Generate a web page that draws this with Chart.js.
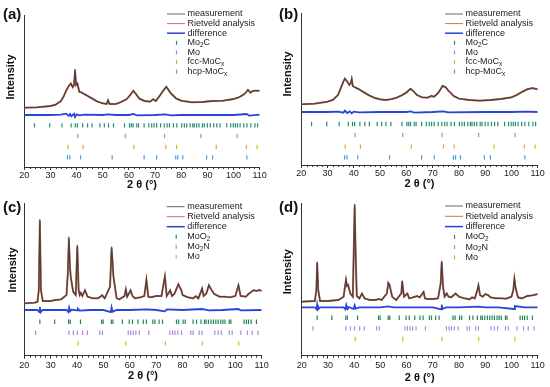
<!DOCTYPE html>
<html>
<head>
<meta charset="utf-8">
<script src="https://cdn.jsdelivr.net/npm/chart.js@4/dist/chart.umd.min.js"></script>
<style>
  body { margin: 0; background: #fff; width: 550px; height: 387px; position: relative; overflow: hidden; }
  .panel { position: absolute; width: 275px; }
</style>
</head>
<body>
<div class="panel" style="left:0;top:0;height:193px"><canvas id="pa"></canvas></div>
<div class="panel" style="left:275px;top:0;height:193px"><canvas id="pb"></canvas></div>
<div class="panel" style="left:0;top:190px;height:197px"><canvas id="pc"></canvas></div>
<div class="panel" style="left:275px;top:190px;height:197px"><canvas id="pd"></canvas></div>
<script>
const xTicks = [20, 30, 40, 50, 60, 70, 80, 90, 100, 110];

// (a) intensities (arbitrary units)
const angA  = [20, 25, 30, 32, 34, 35, 36, 37, 37.8, 38.5, 39.0, 39.4, 39.8, 40.3, 40.6, 41, 42, 44, 46, 48, 50, 51.5, 52, 52.6, 55, 57, 59, 60, 61, 61.7, 62.5, 64, 66, 68, 69.3, 70.3, 72, 73, 74.3, 75, 76, 78, 80, 84, 88, 92, 96, 100, 102, 104, 105, 105.5, 106.5, 107, 108, 109, 110];
const measA = [178, 179, 183, 187, 198, 211, 229, 243, 251, 239, 246, 294, 246, 251, 240, 226, 223, 214, 205, 196, 191, 189, 201, 189, 189, 195, 203, 211, 221, 229, 221, 205, 198, 196, 204, 198, 216, 228, 241, 233, 221, 206, 199, 194, 195, 198, 199, 204, 209, 218, 226, 232, 223, 227, 229, 229, 229];
const fitA  = [178, 179, 183, 187, 198, 211, 229, 243, 250, 240, 246, 288, 246, 249, 240, 226, 223, 214, 205, 196, 191, 189, 199, 189, 189, 195, 203, 211, 221, 228, 221, 205, 198, 196, 202, 198, 216, 228, 240, 233, 221, 206, 199, 194, 195, 198, 199, 204, 209, 218, 226, 230, 223, 226, 229, 229, 229];
const diffAngA = [20, 30, 34, 36, 37, 37.5, 38, 39, 39.4, 40, 41, 43, 50, 52, 55, 60, 61.7, 63, 70, 74, 76, 80, 90, 100, 105, 106, 110];
const diffA    = [156, 156, 157, 160, 153, 159, 152, 160, 150, 158, 155, 157, 156, 158, 156, 156, 159, 155, 156, 158, 155, 156, 156, 156, 159, 154, 157];

// (b)
const angB  = [20, 25, 30, 32, 34, 35, 36, 36.6, 37.5, 38.3, 38.8, 39.2, 39.6, 40.5, 42, 44, 46, 48, 50, 52, 54, 56, 58, 60, 61, 61.6, 62.5, 64, 66, 68, 69.5, 70.5, 72, 73, 73.8, 75, 76, 78, 80, 84, 88, 92, 96, 100, 102, 104, 106, 108, 110];
const measB = [182, 184, 190, 195, 210, 230, 250, 260, 250, 240, 245, 260, 237, 233, 227, 217, 208, 201, 197, 195, 197, 201, 208, 217, 225, 229, 223, 210, 203, 202, 208, 205, 215, 227, 238, 233, 223, 207, 199, 195, 193, 195, 198, 203, 210, 219, 227, 231, 227];
const fitB  = [182, 184, 190, 195, 210, 230, 250, 258, 250, 240, 245, 256, 237, 233, 227, 217, 208, 201, 197, 195, 197, 201, 208, 217, 225, 228, 223, 210, 203, 202, 206, 205, 215, 227, 237, 233, 223, 207, 199, 195, 193, 195, 198, 203, 210, 219, 227, 230, 227];
const diffAngB = [20, 30, 34, 36, 36.6, 37.5, 38.5, 39.2, 40, 42, 50, 60, 61.6, 63, 70, 74, 76, 90, 100, 106, 110];
const diffB    = [159, 159, 160, 157, 163, 156, 161, 155, 160, 158, 159, 159, 161, 157, 159, 161, 158, 159, 159, 160, 159];

// (c)
const angC  = [20, 24, 25, 25.5, 25.9, 26.3, 27, 30, 31.5, 34, 36, 36.5, 36.9, 37.3, 37.6, 38.5, 39.5, 40.1, 40.6, 41, 41.4, 42, 43, 44, 46, 48, 49.5, 50.5, 52.5, 53.1, 53.8, 55, 56, 58, 58.5, 59, 60.3, 61, 62, 64, 65.5, 66.3, 67, 68, 70, 72, 73.3, 74, 75.3, 76, 77, 78.4, 79.5, 80, 82, 84, 85, 86, 87.4, 88, 89, 90, 91, 92, 94, 96, 98, 100, 101.2, 102, 104, 105, 106, 107, 108, 109, 110];
const measC = [157, 159, 162, 197, 409, 197, 164, 164, 167, 169, 182, 247, 357, 267, 237, 192, 182, 332, 197, 182, 189, 179, 197, 177, 172, 172, 182, 172, 207, 327, 237, 172, 169, 179, 199, 177, 197, 179, 172, 175, 179, 229, 177, 175, 179, 179, 239, 179, 197, 179, 187, 215, 197, 182, 175, 172, 179, 172, 202, 179, 187, 212, 197, 185, 177, 177, 175, 179, 212, 179, 177, 185, 191, 197, 194, 197, 195];
const fitC  = [157, 159, 162, 197, 404, 197, 164, 164, 166, 169, 182, 247, 350, 267, 237, 192, 182, 326, 197, 182, 188, 179, 195, 177, 172, 172, 180, 172, 207, 322, 237, 172, 169, 179, 198, 177, 195, 179, 172, 175, 179, 226, 177, 175, 179, 179, 236, 179, 195, 179, 187, 213, 197, 182, 175, 172, 178, 172, 200, 179, 187, 210, 197, 185, 177, 177, 175, 179, 210, 179, 177, 185, 191, 196, 194, 196, 195];
const diffAngC = [20, 25, 25.7, 25.9, 26.2, 27, 30, 36, 36.7, 37, 37.4, 38, 40, 40.3, 41, 45, 50, 52.8, 53.1, 53.5, 55, 60, 66.3, 70, 73.3, 74, 80, 87.4, 90, 95, 101.2, 102, 110];
const diffC    = [137, 137, 131, 146, 130, 137, 137, 137, 131, 144, 133, 138, 136, 141, 135, 137, 137, 131, 145, 132, 137, 137, 139, 137, 133, 139, 137, 140, 136, 137, 140, 136, 137];

// (d)
const angD  = [20, 25, 25.6, 25.9, 26.3, 27, 30, 34, 36, 36.5, 36.9, 37.3, 37.7, 38.5, 39.5, 39.8, 40.2, 40.6, 41, 42, 43, 44, 46, 48, 49.5, 50.5, 52.5, 53, 53.5, 54.5, 56, 58, 58.3, 59, 60.3, 61, 62, 64, 65, 66.5, 67, 68, 70, 72, 73, 73.4, 73.9, 74.5, 75.3, 76, 77, 78.7, 80, 82, 84, 85, 86, 87, 87.4, 88, 89, 90, 91, 92, 94, 96, 98, 100, 100.7, 101.1, 101.6, 102.5, 104, 106, 108, 110];
const measD = [162, 164, 197, 282, 197, 164, 164, 167, 177, 207, 229, 209, 212, 187, 177, 297, 455, 297, 179, 172, 187, 172, 167, 167, 170, 167, 187, 219, 212, 177, 167, 187, 225, 177, 187, 172, 174, 179, 175, 192, 172, 170, 170, 172, 217, 284, 207, 177, 187, 177, 175, 187, 177, 172, 169, 175, 172, 197, 212, 182, 177, 185, 182, 175, 172, 172, 171, 177, 197, 232, 202, 175, 172, 179, 181, 185];
const fitD  = [162, 164, 197, 278, 197, 164, 164, 167, 177, 207, 226, 209, 212, 187, 177, 297, 448, 297, 179, 172, 186, 172, 167, 167, 170, 167, 187, 217, 212, 177, 167, 187, 222, 177, 186, 172, 174, 179, 175, 190, 172, 170, 170, 172, 217, 280, 207, 177, 186, 177, 175, 186, 177, 172, 169, 175, 172, 197, 210, 182, 177, 184, 182, 175, 172, 172, 171, 177, 197, 229, 202, 175, 172, 179, 181, 185];
const diffAngD = [20, 25, 25.7, 25.9, 26.2, 27, 30, 36, 36.7, 37, 37.5, 38, 39.8, 40.2, 40.6, 42, 50, 53, 55, 60, 70, 73.2, 73.4, 73.7, 75, 80, 87.4, 90, 95, 101, 101.3, 105, 110];
const diffD    = [145, 145, 139, 153, 139, 145, 145, 145, 139, 152, 140, 146, 140, 151, 141, 145, 145, 148, 145, 145, 145, 139, 153, 140, 145, 145, 147, 145, 145, 140, 149, 145, 145];

// reflection positions (2θ) of each phase
const mo2cPos = [23.9, 29.7, 34.4, 37.9, 39.5, 40.3, 42.3, 44.2, 45.9, 48.9, 50.6, 52.2, 54.1, 58.3, 60.2, 60.9, 61.6, 63.0, 63.7, 65.8, 67.6, 68.7, 69.6, 70.6, 72.1, 73.5, 74.6, 75.5, 77.0, 78.3, 80.2, 81.2, 82.1, 83.4, 84.4, 85.0, 85.9, 86.8, 88.1, 88.8, 90.0, 91.1, 92.4, 93.6, 94.8, 97.4, 98.9, 99.9, 100.7, 101.5, 102.5, 103.9, 105.1, 106.6, 108.2, 109.2];
const moPosAB = [40.5, 58.6, 73.6, 87.5, 101.4];
const fccPos  = [36.7, 42.5, 61.9, 74.1, 78.2, 93.4, 104.9, 109.0];
const hcpPos  = [36.5, 37.4, 41.5, 53.6, 65.8, 70.6, 77.9, 78.7, 80.6, 89.7, 92.0, 105.1];
const moo2Pos = [25.9, 31.5, 36.8, 37.4, 41.3, 49.3, 49.9, 53.0, 53.6, 57.2, 59.8, 61.0, 63.1, 65.1, 66.3, 68.7, 69.5, 71.1, 72.4, 77.7, 78.5, 80.2, 81.0, 84.0, 85.3, 87.0, 88.3, 88.9, 89.8, 90.8, 91.7, 92.6, 93.5, 94.5, 95.3, 96.1, 97.7, 98.3, 103.3, 104.2, 105.0, 106.0, 108.0];
const mo2nPos = [24.3, 36.9, 38.6, 40.1, 42.1, 43.9, 48.6, 49.6, 59.4, 60.3, 61.3, 62.3, 63.6, 67.2, 75.2, 76.2, 77.1, 78.2, 79.6, 83.1, 84.0, 86.3, 87.4, 92.2, 93.5, 94.7, 97.7, 98.8, 102.1, 104.6, 106.4, 108.6];
const moPosCD = [40.4, 58.5, 73.5, 87.5, 101.3];

const FONT = '"Liberation Sans", Arial, sans-serif';
const C_MEAS = '#4f3f3a', C_FIT = '#c87660', C_DIFF = '#2a44d8';

const pts = (xs, ys) => xs.map((x, i) => ({ x: x, y: ys[i] }));
const row = (xs, level) => xs.map(x => ({ x: x, y: level }));

// text with "_2" style subscripts
function drawRich(ctx, text, x, y) {
  let cx = x;
  for (let i = 0; i < text.length; i++) {
    let ch = text[i], sub = false;
    if (ch === '_') { sub = true; ch = text[++i]; }
    ctx.font = sub ? '6.5px ' + FONT : '9px ' + FONT;
    ctx.fillText(ch, cx, sub ? y + 2.5 : y);
    cx += ctx.measureText(ch).width;
  }
}

const decor = {
  id: 'decor',
  afterDraw(chart) {
    const p = chart.options.plugins.decor;
    const ctx = chart.ctx;
    const xs = chart.scales.x, area = chart.chartArea;
    ctx.save();
    // minor ticks every 2 deg
    ctx.strokeStyle = '#333';
    ctx.lineWidth = 1;
    for (let v = 22; v < 110; v += 2) {
      if (v % 10 === 0) continue;
      const px = Math.round(xs.getPixelForValue(v)) + 0.5;
      ctx.beginPath(); ctx.moveTo(px, area.bottom); ctx.lineTo(px, area.bottom + 2); ctx.stroke();
    }
    ctx.fillStyle = '#111';
    ctx.textBaseline = 'middle';
    ctx.font = 'bold 15px ' + FONT;
    ctx.fillText(p.tag, p.tagX, p.tagY);
    ctx.save();
    ctx.translate(p.intX, p.intY);
    ctx.rotate(-Math.PI / 2);
    ctx.textAlign = 'center';
    ctx.font = 'bold 11px ' + FONT;
    ctx.fillText('Intensity', 0, 0);
    ctx.restore();
    // legend
    p.legend.forEach((it, i) => {
      const y = p.legY + i * p.legStep;
      ctx.strokeStyle = it.color;
      ctx.beginPath();
      if (it.kind === 'line') {
        ctx.lineWidth = it.w;
        ctx.moveTo(p.legX, y); ctx.lineTo(p.legX + 18, y);
      } else {
        ctx.lineWidth = 1.2;
        ctx.moveTo(p.legX + 9.5, y - 2); ctx.lineTo(p.legX + 9.5, y + 2);
      }
      ctx.stroke();
      ctx.fillStyle = '#222';
      drawRich(ctx, it.label, p.legX + 20.5, y);
    });
    ctx.restore();
  }
};

function makePanel(id, p) {
  const datasets = [
    { label: 'measurement', data: pts(p.ang, p.meas), borderColor: C_MEAS, borderWidth: 1.3 },
    { label: 'Rietveld analysis', data: pts(p.ang, p.fit), borderColor: C_FIT, borderWidth: 2 },
    { label: 'difference', data: pts(p.diffAng, p.diff), borderColor: C_DIFF, borderWidth: 1.8 }
  ];
  p.rows.forEach(r => datasets.push({
    label: r.label, data: row(r.pos, r.level), showLine: false,
    pointStyle: 'line', rotation: 90, pointRadius: 2.2, borderWidth: 1.2, borderColor: r.color
  }));
  const legend = [
    { kind: 'line', label: 'measurement', color: '#666', w: 1 },
    { kind: 'line', label: 'Rietveld analysis', color: C_FIT, w: 1 },
    { kind: 'line', label: 'difference', color: C_DIFF, w: 1.5 }
  ].concat(p.rows.map(r => ({ kind: 'tick', label: r.label, color: r.color })));

  new Chart(document.getElementById(id), {
    type: 'line',
    data: { datasets: datasets },
    options: {
      responsive: true,
      maintainAspectRatio: false,
      animation: false,
      elements: { point: { radius: 0 }, line: { tension: 0 } },
      layout: { padding: { top: p.top, right: p.right, left: 0, bottom: 0 } },
      plugins: {
        legend: { display: false },
        tooltip: { enabled: false },
        decor: Object.assign({ legend: legend }, p.dec)
      },
      scales: {
        x: {
          type: 'linear', min: 20, max: 110,
          afterBuildTicks: s => { s.ticks = xTicks.map(v => ({ value: v })); },
          afterFit: s => { s.height = p.xh; },
          ticks: { color: '#222', padding: p.tickPad, font: { family: FONT, size: 9 } },
          grid: { drawOnChartArea: false, drawTicks: true, tickLength: 3, color: '#333' },
          border: { color: '#333', width: 1 },
          title: { display: true, text: '2 θ (°)', color: '#111', padding: { top: 0, bottom: p.titlePad },
                   font: { family: FONT, size: 11, weight: 'bold' } }
        },
        y: {
          min: 0, max: p.ymax,
          afterFit: s => { s.width = p.left; },
          ticks: { display: false },
          grid: { display: false },
          border: { color: '#333', width: 1 }
        }
      }
    },
    plugins: [decor]
  });
}

makePanel('pa', {
  ang: angA, meas: measA, fit: fitA, diffAng: diffAngA, diff: diffA, ymax: 456,
  left: 24.3, right: 15.3, top: 15, xh: 26, tickPad: 0, titlePad: 1.7,
  rows: [
    { label: 'Mo_2C', pos: mo2cPos, level: 125, color: '#23906a' },
    { label: 'Mo', pos: moPosAB, level: 93, color: '#9d8fdc' },
    { label: 'fcc-MoC_x', pos: fccPos, level: 60, color: '#cdb42e' },
    { label: 'hcp-MoC_x', pos: hcpPos, level: 29, color: '#3ea2e0' }
  ],
  dec: { tag: '(a)', tagX: 3, tagY: 15, intX: 10.5, intY: 77, legX: 167, legY: 14, legStep: 9.6 }
});

makePanel('pb', {
  ang: angB, meas: measB, fit: fitB, diffAng: diffAngB, diff: diffB, ymax: 455,
  left: 26.3, right: 12.3, top: 13.3, xh: 28, tickPad: 0, titlePad: 2.1,
  rows: [
    { label: 'Mo_2C', pos: mo2cPos, level: 123, color: '#23906a' },
    { label: 'Mo', pos: moPosAB, level: 90, color: '#9d8fdc' },
    { label: 'fcc-MoC_x', pos: fccPos, level: 55, color: '#cdb42e' },
    { label: 'hcp-MoC_x', pos: hcpPos, level: 23, color: '#3ea2e0' }
  ],
  dec: { tag: '(b)', tagX: 4, tagY: 15, intX: 13.3, intY: 74, legX: 170, legY: 14, legStep: 9.6 }
});

makePanel('pc', {
  ang: angC, meas: measC, fit: fitC, diffAng: diffAngC, diff: diffC, ymax: 457,
  left: 24.3, right: 13.3, top: 13.3, xh: 31.3, tickPad: 1.6, titlePad: 4.6,
  rows: [
    { label: 'MoO_2', pos: moo2Pos, level: 102, color: '#248658' },
    { label: 'Mo_2N', pos: mo2nPos, level: 69, color: '#a48ae0' },
    { label: 'Mo', pos: moPosCD, level: 37, color: '#d2b52a' }
  ],
  dec: { tag: '(c)', tagX: 3, tagY: 17.5, intX: 12.5, intY: 80, legX: 166.7, legY: 16.7, legStep: 10 }
});

makePanel('pd', {
  ang: angD, meas: measD, fit: fitD, diffAng: diffAngD, diff: diffD, ymax: 457,
  left: 26.7, right: 12.3, top: 13.3, xh: 31.3, tickPad: 1.7, titlePad: 2.9,
  rows: [
    { label: 'MoO_2', pos: moo2Pos, level: 114, color: '#248658' },
    { label: 'Mo_2N', pos: mo2nPos, level: 82, color: '#a48ae0' },
    { label: 'Mo', pos: moPosCD, level: 50, color: '#d2b52a' }
  ],
  dec: { tag: '(d)', tagX: 4, tagY: 17.5, intX: 13.3, intY: 81.7, legX: 170, legY: 16, legStep: 10.3 }
});
</script>
</body>
</html>
